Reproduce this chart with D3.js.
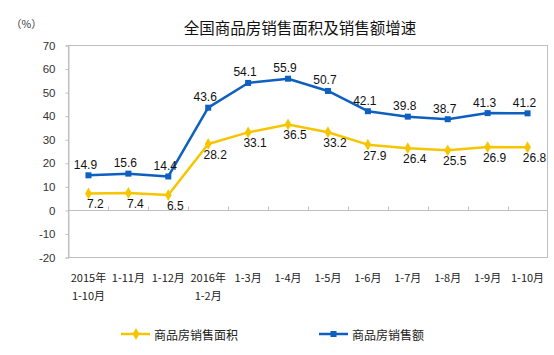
<!DOCTYPE html>
<html><head><meta charset="utf-8">
<script src="https://cdn.jsdelivr.net/npm/d3@7"></script>
<style>
body{margin:0;background:#fff;}
svg{display:block;}
</style></head>
<body>
<svg id="chart" width="554" height="355"></svg>
<script>
const categories = [["2015年","1-10月"],["1-11月"],["1-12月"],["2016年","1-2月"],["1-3月"],["1-4月"],["1-5月"],["1-6月"],["1-7月"],["1-8月"],["1-9月"],["1-10月"]];
const areaGrowth = [7.2,7.4,6.5,28.2,33.1,36.5,33.2,27.9,26.4,25.5,26.9,26.8];
const salesGrowth = [14.9,15.6,14.4,43.6,54.1,55.9,50.7,42.1,39.8,38.7,41.3,41.2];
const yTicks = [70,60,50,40,30,20,10,0,-10,-20];
const seriesNames = ["商品房销售面积","商品房销售额"];
const title = "全国商品房销售面积及销售额增速";
const unit = "（%）";

(function(){
const svg = d3.select("#chart");
const pLeft = 68.5, pRight = 547.5, pTop = 45.5, pBottom = 257.5;
const cjk = "'Noto Sans CJK SC','Noto Sans',sans-serif";
const latin = "'Liberation Sans',Arial,sans-serif";
const BLUE = "#0d5fc0", YELLOW = "#f7c500", GRID = "#bfbfbf";

const x = d3.scaleBand().domain(d3.range(categories.length)).range([pLeft, pRight]);
const y = d3.scaleLinear().domain([-20,70]).range([pBottom, pTop]);
const cx = i => x(i) + x.bandwidth()/2;

// title
svg.append("text").attr("x",300).attr("y",27).attr("text-anchor","middle")
  .attr("dominant-baseline","central").attr("font-family",cjk).attr("font-size",15.5)
  .attr("fill","#111").text(title);
svg.append("text").attr("x",11).attr("y",23).attr("dominant-baseline","central")
  .attr("font-family",cjk).attr("font-size",10.5).attr("fill","#333").text(unit);

// plot border
svg.append("rect").attr("x",pLeft).attr("y",pTop).attr("width",pRight-pLeft).attr("height",pBottom-pTop)
  .attr("fill","none").attr("stroke",GRID).attr("stroke-width",1);

// y axis
const yAxis = d3.axisLeft(y).tickValues(yTicks).tickSize(3).tickPadding(10).tickFormat(d=>String(d));
const yg = svg.append("g").attr("transform",`translate(${pLeft},0)`).call(yAxis);
yg.select(".domain").attr("stroke",GRID);
yg.selectAll(".tick line").attr("stroke",GRID);
yg.selectAll(".tick text").attr("font-family",latin).attr("font-size",11.5).attr("fill","#333");

// zero axis with tick marks (upward)
const y0 = Math.round(y(0)) + 0.5;
svg.append("line").attr("x1",pLeft).attr("x2",pRight).attr("y1",y0).attr("y2",y0).attr("stroke",GRID);
svg.append("g").selectAll("line").data(d3.range(1,categories.length)).join("line")
  .attr("x1",i=>Math.round(x(i))+0.5).attr("x2",i=>Math.round(x(i))+0.5)
  .attr("y1",y0-4).attr("y2",y0).attr("stroke",GRID);

// category labels
const lab = svg.append("g");
categories.forEach((c,i)=>{
  c.forEach((t,j)=>{
    lab.append("text").attr("x",cx(i)).attr("y",277+j*17.5).attr("text-anchor","middle")
      .attr("dominant-baseline","central").attr("font-family",cjk).attr("font-size",11)
      .attr("fill","#222").text(t);
  });
});

// lines
const line = d3.line().x((d,i)=>cx(i)).y(d=>y(d));
svg.append("path").datum(areaGrowth).attr("d",line).attr("fill","none")
  .attr("stroke",YELLOW).attr("stroke-width",2.5).attr("stroke-linejoin","round");
svg.append("path").datum(salesGrowth).attr("d",line).attr("fill","none")
  .attr("stroke",BLUE).attr("stroke-width",2.5).attr("stroke-linejoin","round");

const diamond = d3.symbol().type(d3.symbolDiamond).size(40);
svg.append("g").selectAll("path").data(areaGrowth).join("path")
  .attr("d",diamond).attr("transform",(d,i)=>`translate(${cx(i)},${y(d)})`).attr("fill",YELLOW);
svg.append("g").selectAll("rect").data(salesGrowth).join("rect")
  .attr("x",(d,i)=>cx(i)-3).attr("y",d=>y(d)-3).attr("width",6).attr("height",6).attr("fill",BLUE);

// data labels
svg.append("g").selectAll("text").data(areaGrowth).join("text")
  .attr("x",(d,i)=>cx(i)+7).attr("y",d=>y(d)+11).attr("text-anchor","middle")
  .attr("dominant-baseline","central").attr("font-family",latin).attr("font-size",12)
  .attr("fill","#111").text(d=>d.toFixed(1));
svg.append("g").selectAll("text").data(salesGrowth).join("text")
  .attr("x",(d,i)=>cx(i)-3).attr("y",d=>y(d)-10.5).attr("text-anchor","middle")
  .attr("dominant-baseline","central").attr("font-family",latin).attr("font-size",12)
  .attr("fill","#111").text(d=>d.toFixed(1));

// legend
const legend = [{name:seriesNames[0],color:YELLOW,x:121,type:"d"},{name:seriesNames[1],color:BLUE,x:319,type:"s"}];
const lg = svg.append("g");
legend.forEach(l=>{
  lg.append("line").attr("x1",l.x).attr("x2",l.x+29).attr("y1",334).attr("y2",334)
    .attr("stroke",l.color).attr("stroke-width",2.5);
  if(l.type==="d") lg.append("path").attr("d",diamond).attr("transform",`translate(${l.x+15},334)`).attr("fill",l.color);
  else lg.append("rect").attr("x",l.x+11.5).attr("y",331).attr("width",6).attr("height",6).attr("fill",l.color);
  lg.append("text").attr("x",l.x+33).attr("y",334).attr("dominant-baseline","central")
    .attr("font-family",cjk).attr("font-size",12).attr("fill","#222").text(l.name);
});
})();
</script>
</body></html>
